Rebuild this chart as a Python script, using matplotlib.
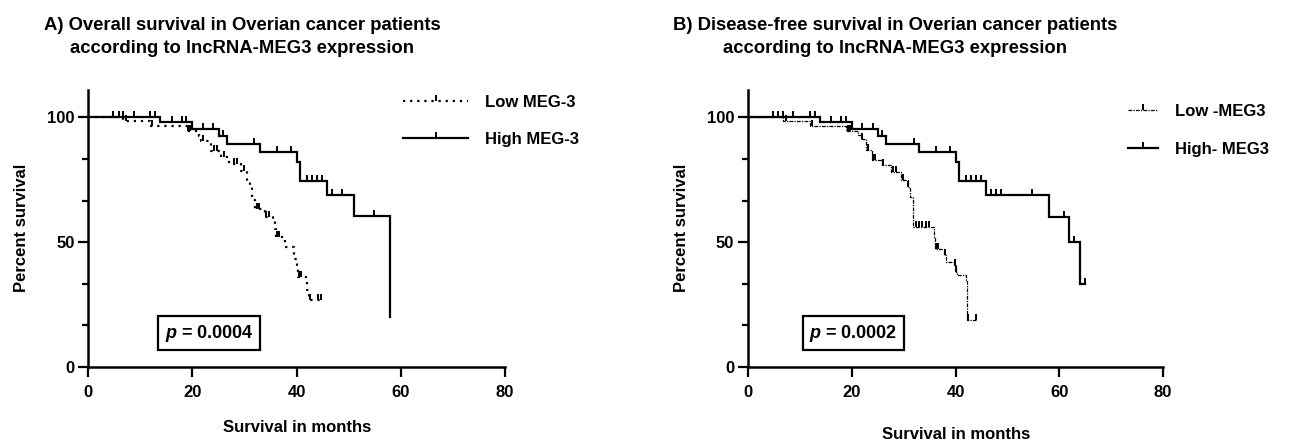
import numpy as np
import matplotlib
matplotlib.use("Agg")
import matplotlib.pyplot as plt
from matplotlib.path import Path
from matplotlib.lines import Line2D

plt.rcParams['font.family'] = ['Liberation Sans', 'DejaVu Sans']
plt.rcParams['font.weight'] = 'bold'
plt.rcParams['mathtext.fontset'] = 'custom'
plt.rcParams['mathtext.it'] = 'Liberation Sans:italic:bold'
plt.rcParams['mathtext.rm'] = 'Liberation Sans:bold'

# ---- data (months, percent survival) ----
# A) overall survival
os_high_times = [13.8, 20, 25, 26.6, 32.9, 40, 40.7, 45.8, 51, 58]
os_high_surv = [98, 95.3, 92.7, 89.3, 86, 82, 74.7, 68.7, 60.3, 20]
os_high_censor = [4.8, 5.8, 6.7, 8.7, 11.9, 12.8, 16, 17.9, 18.8, 22, 24, 25.8,
                  31.9, 36.2, 38.9, 42, 43, 43.9, 44.9, 46.8, 48.7, 54.8]
os_high_end = 58

os_low_times = [6.7, 11.9, 18.9, 21.2, 21.7, 23.5, 25.5, 27, 29.3, 30.5, 31, 31.5,
                32, 34, 35.5, 35.9, 36.1, 37.8, 39.5, 40, 40.2, 41.8, 42, 42.3]
os_low_surv = [98.4, 96.7, 94.7, 92.7, 90.7, 86.7, 84, 81.3, 78.7, 74.7, 72, 66.7,
               63.3, 60, 58.7, 55.3, 52, 48, 43.3, 40.7, 36, 34, 30.7, 26.7]
os_low_censor = [7.2, 12.2, 19.2, 19.6, 22, 24.2, 24.7, 26, 28, 28.5, 29.8, 32.3,
                 32.7, 34.2, 34.6, 36.3, 36.7, 40.4, 40.8, 42.6, 44, 44.6]
os_low_end = 44.6

# B) disease-free survival
dfs_high_times = [13.8, 20, 25, 26.6, 32.9, 40, 40.7, 45.8, 58, 61.9, 64]
dfs_high_surv = [98, 95.3, 92.7, 89.3, 86, 82, 74.7, 68.7, 60, 50, 33]
dfs_high_censor = [4.8, 5.8, 6.7, 8.7, 11.9, 12.8, 16, 17.9, 18.8, 22, 24, 25.8,
                   31.9, 36.2, 38.9, 42, 43, 43.9, 44.9, 46.8, 47.8, 48.7, 54.8,
                   60.9, 62.8, 64.9]
dfs_high_end = 64.9

dfs_low_times = [6.7, 11.9, 18.9, 21.2, 21.7, 22.8, 23.8, 25.7, 27.5, 29.5, 30.8,
                 31.1, 31.7, 35.9, 36.1, 37.8, 38.2, 39.7, 40, 40.2, 42, 42.1]
dfs_low_surv = [98.4, 96.7, 94.7, 93, 91.3, 87, 83, 81, 78, 75, 72,
                68, 56, 52, 47.3, 45, 42, 41, 38, 36.7, 34.7, 18.7]
dfs_low_censor = [7.2, 12.2, 19.2, 19.6, 21.9, 23, 24, 24.4, 26, 28, 28.4, 29.8,
                  30.9, 32.4, 33, 33.6, 34.2, 34.9, 36.2, 36.6, 38, 39.8, 40.1,
                  42.3, 43.9]
dfs_low_end = 44

tick_mark = Path([(0, 0), (0, 1)], [Path.MOVETO, Path.LINETO])


def km_curve(ax, times, surv, censor, end, ls, lw):
    t = np.r_[0, times, end]
    s = np.r_[100, surv, surv[-1]]
    ax.step(t, s, where='post', color='black', ls=ls, lw=lw, solid_joinstyle='miter')
    t_arr = np.asarray(times)
    s_arr = np.asarray(surv)
    cy = []
    for c in censor:
        idx = np.where(t_arr <= c)[0]
        cy.append(100 if len(idx) == 0 else s_arr[idx[-1]])
    ax.plot(censor, cy, ls='none', marker=tick_mark, ms=8, mew=1.4, color='black')


def style_axes(ax):
    ax.set_xlim(0, 80)
    ax.set_ylim(0, 111)
    ax.set_xticks([0, 20, 40, 60, 80])
    ax.set_yticks([0, 50, 100])
    ax.set_yticks(np.arange(0, 101, 50 / 3), minor=True)
    for side in ['top', 'right']:
        ax.spines[side].set_visible(False)
    for side in ['left', 'bottom']:
        ax.spines[side].set_linewidth(1.8)
    ax.tick_params(which='major', length=7, width=1.6, labelsize=12, pad=3)
    ax.tick_params(axis='x', which='major', pad=6)
    ax.tick_params(which='minor', length=4.5, width=1.6)
    ax.tick_params(axis='x', which='minor', length=0)
    ax.set_ylabel('Percent survival', fontsize=12, fontweight='bold')
    ax.yaxis.set_label_coords(-0.142, 0.5)
    ax.set_xlabel('Survival in months', fontsize=12, fontweight='bold')


fig = plt.figure(figsize=(12.89, 4.43), dpi=100)
ax1 = fig.add_axes([0.0685, 0.1722, 0.3233, 0.6246])
ax2 = fig.add_axes([0.5805, 0.1722, 0.3218, 0.6246])

# left panel
km_curve(ax1, os_low_times, os_low_surv, os_low_censor, os_low_end, (0, (1, 2.2)), 1.6)
km_curve(ax1, os_high_times, os_high_surv, os_high_censor, os_high_end, '-', 1.6)
style_axes(ax1)
ax1.xaxis.set_label_coords(0.5, -0.192)
ax1.text(23.2, 13.5, r'$\it{p}$ = 0.0004', fontsize=13, fontweight='bold',
         ha='center', va='center',
         bbox=dict(boxstyle='square,pad=0.35', fc='white', ec='black', lw=1.6))

# right panel
km_curve(ax2, dfs_low_times, dfs_low_surv, dfs_low_censor, dfs_low_end, (0, (3, 1, 1, 1)), 0.9)
km_curve(ax2, dfs_high_times, dfs_high_surv, dfs_high_censor, dfs_high_end, '-', 1.6)
style_axes(ax2)
ax2.xaxis.set_label_coords(0.5, -0.218)
ax2.text(20.3, 13.5, r'$\it{p}$ = 0.0002', fontsize=13, fontweight='bold',
         ha='center', va='center',
         bbox=dict(boxstyle='square,pad=0.35', fc='white', ec='black', lw=1.6))

# legends
h_low1 = Line2D([], [], color='black', ls=(0, (1, 2.2)), lw=1.6, marker=tick_mark, ms=8, mew=1.4)
h_high = Line2D([], [], color='black', ls='-', lw=1.6, marker=tick_mark, ms=8, mew=1.4)
h_low2 = Line2D([], [], color='black', ls=(0, (3, 1, 1, 1)), lw=0.9, marker=tick_mark, ms=8, mew=1.4)

fig.legend([h_low1, h_high], ['Low MEG-3', 'High MEG-3'], loc='center left',
           bbox_to_anchor=(0.3127, 0.7269), frameon=False, borderpad=0,
           borderaxespad=0, handlelength=3.9, handletextpad=1.0, labelspacing=1.35,
           numpoints=1, prop=dict(size=12, weight='bold'))
fig.legend([h_low2, h_high], ['Low -MEG3', 'High- MEG3'], loc='center left',
           bbox_to_anchor=(0.8751, 0.7054), frameon=False, borderpad=0,
           borderaxespad=0, handlelength=1.8, handletextpad=1.0, labelspacing=1.35,
           numpoints=1, prop=dict(size=12, weight='bold'))

# titles
fig.text(0.1877, 0.962, 'A) Overall survival in Overian cancer patients\naccording to lncRNA-MEG3 expression',
         ha='center', va='top', multialignment='center', fontsize=13.3, fontweight='bold',
         linespacing=1.5)
fig.text(0.6947, 0.962, 'B) Disease-free survival in Overian cancer patients\naccording to lncRNA-MEG3 expression',
         ha='center', va='top', multialignment='center', fontsize=13.3, fontweight='bold',
         linespacing=1.5)

fig.savefig('out.png', dpi=100)
